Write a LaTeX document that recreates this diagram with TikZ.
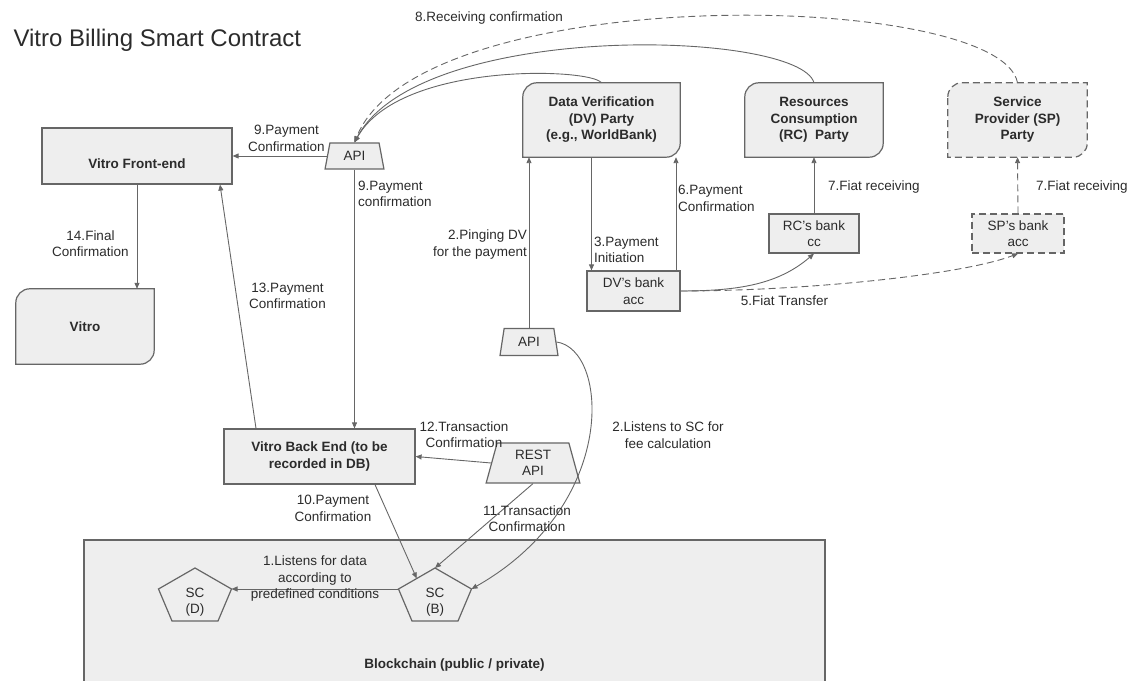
\documentclass[tikz,border=0pt]{standalone}
\usepackage{fontspec}
\setmainfont{Liberation Sans}
\usepackage{tikz}
\usetikzlibrary{shapes.geometric,arrows.meta,calc,backgrounds}
\definecolor{vitroFill}{HTML}{EEEEEE}
\definecolor{vitroLine}{HTML}{666666}
\definecolor{vitroText}{HTML}{2B2B2B}

\newcommand{\lblfont}{\fontsize{13.5}{16.5}\selectfont}
\newcommand{\diagcorners}[2][]{%
  \filldraw[draw=vitroLine, fill=vitroFill, line width=1.2pt, #1]
    ($(#2.north west)+(0,-14)$) arc[start angle=180, end angle=90, radius=14pt]
    -- (#2.north east) -- ($(#2.south east)+(0,14)$)
    arc[start angle=0, end angle=-90, radius=14pt] -- (#2.south west) -- cycle;}

\tikzset{
  box/.style={draw=vitroLine, fill=vitroFill, line width=1.2pt, inner sep=0pt,
    font=\lblfont\bfseries, text=vitroText, align=center},
  party/.style={inner sep=0pt, font=\lblfont\bfseries, text=vitroText, align=center},
  bank/.style={draw=vitroLine, fill=vitroFill, line width=1.2pt, inner sep=0pt,
    font=\lblfont, text=vitroText, align=center},
  apibox/.style={trapezium, trapezium stretches=true, draw=vitroLine, fill=vitroFill,
    line width=1.2pt, inner sep=0pt, font=\lblfont, text=vitroText, align=center},
  lbl/.style={font=\lblfont, text=vitroText, align=center, inner sep=1pt},
  link/.style={draw=vitroLine, line width=0.9pt, -{Triangle[length=6pt,width=5pt]}},
  dashline/.style={dash pattern=on 7pt off 4pt}
}

\begin{document}
\begin{tikzpicture}[x=1pt, y=1pt]
  \useasboundingbox (0,0) rectangle (1132,680);

  \node[anchor=base west, font=\fontsize{24}{28}\selectfont, text=vitroText] (title) at (10,633) {Vitro Billing Smart Contract};

  % blockchain
  \node[box, minimum width=741pt, minimum height=150pt] (chain) at (454.5,65) {};
  \node[lbl, font=\lblfont\bfseries] (chainlbl) at (454.5,15) {Blockchain (public / private)};
  \foreach \sc/\tag/\x in {scd/D/195, scb/B/435} {
    \coordinate (\sc) at (\x,78);
    \coordinate (\sc-t) at ($(\sc)+(0,34)$);
    \coordinate (\sc-r) at ($(\sc)+(36.5,13)$);
    \coordinate (\sc-br) at ($(\sc)+(23,-19)$);
    \coordinate (\sc-bl) at ($(\sc)+(-23,-19)$);
    \coordinate (\sc-l) at ($(\sc)+(-36.5,13)$);
    \draw[vitroLine, line width=1.2pt] (\sc-t) -- (\sc-r) -- (\sc-br) -- (\sc-bl) -- (\sc-l) -- cycle;
    \node[lbl] (\sc-txt) at (\sc) {SC\\(\tag)};
  }

  % boxes
  \node[box, minimum width=190pt, minimum height=56pt] (frontend) at (137,524) {\raisebox{-13pt}[0pt][0pt]{Vitro Front-end}};
  \node[party, minimum width=138pt, minimum height=75pt] (vitro) at (85,353.5) {Vitro};
  \node[box, minimum width=191pt, minimum height=55pt] (backend) at (319.5,223.5) {Vitro Back End (to be\\recorded in DB)};
  \node[party, minimum width=157pt, minimum height=74pt] (dv) at (601.5,560) {Data Verification\\(DV) Party\\(e.g., WorldBank)};
  \node[party, minimum width=138pt, minimum height=74pt] (rc) at (814,560) {Resources\\Consumption\\(RC)~ Party};
  \node[party, minimum width=139pt, minimum height=74pt] (sp) at (1017.5,560) {Service\\Provider (SP)\\Party};
  \begin{scope}[on background layer]
    \diagcorners{vitro}
    \diagcorners{dv}
    \diagcorners{rc}
    \diagcorners[dashline]{sp}
  \end{scope}
  \node[bank, minimum width=93pt, minimum height=40pt] (dvbank) at (633.5,389) {DV's bank\\acc};
  \node[bank, minimum width=90pt, minimum height=39pt] (rcbank) at (814,446.5) {RC's bank\\cc};
  \node[bank, dashline, minimum width=92pt, minimum height=39pt] (spbank) at (1018,446.5) {SP's bank\\acc};
  \node[apibox, trapezium left angle=77, trapezium right angle=77, minimum width=59pt, minimum height=26pt] (api) at (354.5,524) {API};
  \node[apibox, trapezium left angle=79, trapezium right angle=79, minimum width=58pt, minimum height=27pt] (api2) at (529,338) {API};
  \node[apibox, trapezium left angle=78, trapezium right angle=78, minimum width=94pt, minimum height=40pt] (restapi) at (533,217) {REST\\API};

  % connectors
  \draw[link] (scb-l) -- (scd-r);
  \node[lbl] (l1) at (315,101) {1.Listens for data\\according to\\predefined conditions};
  \draw[link] (api2.north) -- (api2.north |- dv.south);
  \node[lbl, anchor=east, align=right] (l2a) at (528,435.5) {2.Pinging DV\\for the payment};
  \draw[link] (api2.east) .. controls +(52,-7) and +(148,84) .. (scb-r);
  \node[lbl] (l2b) at (668,245) {2.Listens to SC for\\fee calculation};
  \draw[link] ([xshift=-10pt]dv.south) -- ([xshift=-10pt]dv.south |- dvbank.north);
  \node[lbl, anchor=west, align=left] (l3) at (593,430) {3.Payment\\Initiation};
  \draw[link] (dvbank.east) .. controls +(60,0) and +(-35,-30) .. (rcbank.south);
  \draw[link, dashline] (dvbank.east) .. controls +(120,0) and +(-58,-22) .. (spbank.south);
  \node[lbl] (l5) at (784.5,379) {5.Fiat Transfer};
  \draw[link] ([xshift=42.5pt]dvbank.north) -- ([xshift=42.5pt]dvbank.north |- dv.south);
  \node[lbl, anchor=west, align=left] (l6) at (677,481.5) {6.Payment\\Confirmation};
  \draw[link] (rcbank.north) -- (rc.south);
  \node[lbl, anchor=west] (l7a) at (827,493) {7.Fiat receiving};
  \draw[link, dashline] (spbank.north) -- (sp.south);
  \node[lbl, anchor=west] (l7b) at (1035,493) {7.Fiat receiving};
  \draw[link, dashline] (sp.north) .. controls +(-17,93) and +(65,163) .. (api.north);
  \draw[link] (rc.north) .. controls +(-15,53) and +(65,123) .. (api.north);
  \draw[link] (dv.north) .. controls +(-11,15) and +(45,81) .. (api.north);
  \node[lbl, anchor=west] (l8) at (414,662) {8.Receiving confirmation};
  \draw[link] (api.west) -- (api.west -| frontend.east);
  \node[lbl] (l9a) at (286.5,541.5) {9.Payment\\Confirmation};
  \draw[link] (api.south) -- (api.south |- backend.north);
  \node[lbl, anchor=west, align=left] (l9b) at (357,486) {9.Payment\\confirmation};
  \draw[link] ([xshift=55.5pt]backend.south) -- ($(scb-l)!0.5!(scb-t)$);
  \node[lbl] (l10) at (333,171.5) {10.Payment\\Confirmation};
  \draw[link] (restapi.south) -- (scb-t);
  \node[lbl] (l11) at (527,161.5) {11.Transaction\\Confirmation};
  \draw[link] (restapi.west) -- (backend.east);
  \node[lbl] (l12) at (464,245.5) {12.Transaction\\Confirmation};
  \draw[link] ([xshift=-63.5pt]backend.north) -- ([xshift=83pt]frontend.south);
  \node[lbl] (l13) at (287.5,384) {13.Payment\\Confirmation};
  \draw[link] (frontend.south) -- (frontend.south |- vitro.north);
  \node[lbl] (l14) at (90.5,436.5) {14.Final\\Confirmation};
\end{tikzpicture}
\end{document}
